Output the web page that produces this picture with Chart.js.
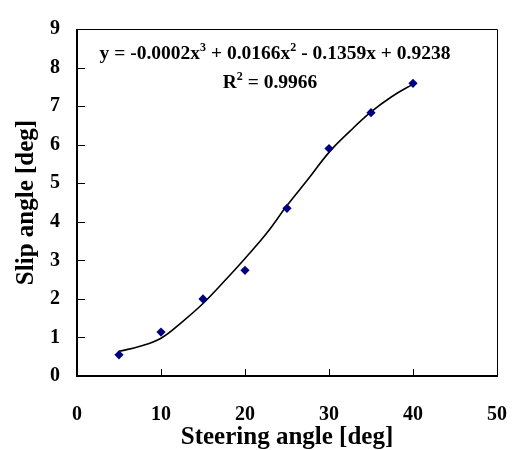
<!DOCTYPE html>
<html>
<head>
<meta charset="utf-8">
<script src="https://cdn.jsdelivr.net/npm/chart.js@4"></script>
<style>
  html, body { margin: 0; padding: 0; background: #fff; }
  #box { width: 519px; height: 450px; }
</style>
</head>
<body>
<div id="box"><canvas id="slipchart"></canvas></div>
<script>
// measured points
var steering = [5, 10, 15, 20, 25, 30, 35, 40];
var slip = [0.55, 1.14, 2.0, 2.74, 4.35, 5.9, 6.83, 7.59];

// trend line
var trendX = [5, 7.5, 10, 12.5, 15, 17.5, 20, 22.5, 25, 27.5, 30, 32.5, 35, 37.5, 40];
var trendY = [0.64, 0.77, 0.98, 1.40, 1.88, 2.45, 3.05, 3.68, 4.42, 5.1, 5.8, 6.35, 6.85, 7.25, 7.57];

var xTicks = [0, 10, 20, 30, 40, 50];
var yTicks = [0, 1, 2, 3, 4, 5, 6, 7, 8, 9];

var equation = ['y = -0.0002x', '3', ' + 0.0166x', '2', ' - 0.1359x + 0.9238'];
var rSquared = ['R', '2', ' = 0.9966'];

var serif = '"Liberation Serif", "Times New Roman", serif';
var pointColor = '#000080';

function toPoints(xs, ys) {
    var out = [];
    for (var i = 0; i < xs.length; i++) out.push({x: xs[i], y: ys[i]});
    return out;
}

// draws text with raised small pieces (odd indexes are superscripts)
function drawSup(ctx, parts, cx, y, size) {
    var big = 'bold ' + size + 'px ' + serif;
    var small = 'bold ' + Math.round(size * 0.62) + 'px ' + serif;
    var w = 0;
    parts.forEach(function (p, i) {
        ctx.font = (i % 2) ? small : big;
        w += ctx.measureText(p).width;
    });
    var x = cx - w / 2;
    ctx.textBaseline = 'alphabetic';
    ctx.textAlign = 'left';
    parts.forEach(function (p, i) {
        ctx.font = (i % 2) ? small : big;
        ctx.fillText(p, x, (i % 2) ? y - size * 0.42 : y);
        x += ctx.measureText(p).width;
    });
}

var frame = {
    id: 'frame',
    afterDraw: function (chart) {
        var ctx = chart.ctx;
        var a = chart.chartArea;
        var xs = chart.scales.x, ys = chart.scales.y;
        ctx.save();
        ctx.strokeStyle = '#000';
        // top and right border
        ctx.lineWidth = 1;
        ctx.beginPath();
        ctx.moveTo(a.left, a.top + 0.5);
        ctx.lineTo(a.right + 0.5, a.top + 0.5);
        ctx.lineTo(a.right + 0.5, a.bottom);
        ctx.stroke();
        // inward tick marks
        ctx.beginPath();
        xTicks.forEach(function (v) {
            var px = Math.round(xs.getPixelForValue(v)) + 0.5;
            ctx.moveTo(px, a.bottom);
            ctx.lineTo(px, a.bottom - 7);
        });
        yTicks.forEach(function (v) {
            var py = Math.round(ys.getPixelForValue(v)) + 0.5;
            ctx.moveTo(a.left, py);
            ctx.lineTo(a.left + 8, py);
        });
        ctx.stroke();
        // left and bottom axis lines
        ctx.lineWidth = 2;
        ctx.beginPath();
        ctx.moveTo(a.left, a.top);
        ctx.lineTo(a.left, a.bottom);
        ctx.lineTo(a.right + 1, a.bottom);
        ctx.stroke();
        // trend equation
        ctx.fillStyle = '#000';
        drawSup(ctx, equation, 275, 59, 19.5);
        drawSup(ctx, rSquared, 270, 88, 19.5);
        ctx.restore();
    }
};

function renderChart() {
    var ctx = document.getElementById('slipchart').getContext('2d');
    new Chart(ctx, {
        type: 'scatter',
        data: {
            datasets: [{
                data: toPoints(trendX, trendY),
                showLine: true,
                borderColor: '#000',
                borderWidth: 1.6,
                pointRadius: 0,
                tension: 0.4,
                order: 2
            }, {
                data: toPoints(steering, slip),
                pointStyle: 'rectRot',
                pointRadius: 4.6,
                backgroundColor: pointColor,
                borderColor: pointColor,
                borderWidth: 0,
                order: 1
            }]
        },
        options: {
            responsive: true,
            maintainAspectRatio: false,
            animation: false,
            layout: { padding: { top: 13, right: 22, left: 12, bottom: 0 } },
            plugins: { legend: { display: false }, tooltip: { enabled: false } },
            scales: {
                x: {
                    type: 'linear',
                    min: 0, max: 50,
                    afterBuildTicks: function (s) { s.ticks = xTicks.map(function (v) { return {value: v}; }); },
                    afterFit: function (s) { s.height = 74; s.paddingLeft = 0; s.paddingRight = 0; },
                    grid: { display: false, drawTicks: false },
                    border: { display: false },
                    ticks: { color: '#000', padding: 27, maxRotation: 0, font: { family: serif, size: 20, weight: 'bold' } },
                    title: { display: true, text: 'Steering angle [deg]', color: '#000', padding: { top: 0, bottom: -3 }, font: { family: serif, size: 25, weight: 'bold' } }
                },
                y: {
                    type: 'linear',
                    min: 0, max: 9,
                    afterBuildTicks: function (s) { s.ticks = yTicks.map(function (v) { return {value: v}; }); },
                    afterFit: function (s) { s.width = 65; },
                    grid: { display: false, drawTicks: false },
                    border: { display: false },
                    ticks: { color: '#000', padding: 17, font: { family: serif, size: 20, weight: 'bold' } },
                    title: { display: true, text: 'Slip angle [deg]', color: '#000', padding: { top: 0, bottom: 0 }, font: { family: serif, size: 25, weight: 'bold' } }
                }
            }
        },
        plugins: [frame]
    });
}

renderChart();
</script>
</body>
</html>
